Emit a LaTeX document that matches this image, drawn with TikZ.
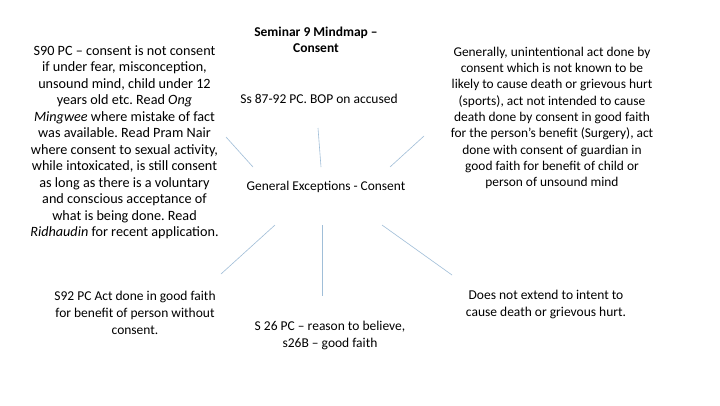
\documentclass[tikz,border=0pt]{standalone}
\usepackage{fontspec}
\setmainfont{Carlito}
\definecolor{linkc}{RGB}{160,190,216}
\begin{document}
\frenchspacing
\begin{tikzpicture}[x=1pt,y=-1pt,
  txt/.style={align=center,inner sep=0pt,text=black},
  link/.style={draw=linkc,line width=0.6pt}]
\useasboundingbox[fill=white] (0,0) rectangle (720,405);
\node[txt,font=\fontsize{13.5}{16.5}\selectfont\bfseries] (title) at (316,40)
  {Seminar 9 Mindmap –\\Consent};
\node[txt,font=\fontsize{13.5}{16.5}\selectfont] (bop) at (319,99)
  {Ss 87-92 PC. BOP on accused};
\node[txt,font=\fontsize{13.4}{16.5}\selectfont] (centre) at (326,187)
  {General Exceptions - Consent};
\node[txt,font=\fontsize{14.2}{16.5}\selectfont] (s90) at (124.5,142.5)
  {S90 PC – consent is not consent\\
   if under fear, misconception,\\
   unsound mind, child under 12\\
   years old etc. Read \textit{Ong}\\
   \textit{Mingwee} where mistake of fact\\
   was available. Read Pram Nair\\
   where consent to sexual activity,\\
   while intoxicated, is still consent\\
   as long as there is a voluntary\\
   and conscious acceptance of\\
   what is being done. Read\\
   \textit{Ridhaudin} for recent application.};
\node[txt,font=\fontsize{13.4}{16.3}\selectfont] (gen) at (552,118)
  {Generally, unintentional act done by\\
   consent which is not known to be\\
   likely to cause death or grievous hurt\\
   (sports), act not intended to cause\\
   death done by consent in good faith\\
   for the person’s benefit (Surgery), act\\
   done with consent of guardian in\\
   good faith for benefit of child or\\
   person of unsound mind};
\node[txt,font=\fontsize{13.5}{17}\selectfont] (s92) at (135,313)
  {S92 PC Act done in good faith\\
   for benefit of person without\\
   consent.};
\node[txt,font=\fontsize{13.5}{17}\selectfont] (s26) at (330,335.5)
  {S 26 PC – reason to believe,\\
   s26B – good faith};
\node[txt,font=\fontsize{13.5}{17}\selectfont] (ext) at (546,304.5)
  {Does not extend to intent to\\
   cause death or grievous hurt.};
\coordinate (a1) at (226,137); \coordinate (a2) at (253,167);
\coordinate (b1) at (318,128); \coordinate (b2) at (321,167);
\coordinate (c1) at (424,136); \coordinate (c2) at (390,167);
\coordinate (d1) at (275,225); \coordinate (d2) at (221,274);
\coordinate (e1) at (322,225); \coordinate (e2) at (322,296);
\coordinate (f1) at (382,225); \coordinate (f2) at (452,275);
\draw[link] (a1) -- (a2);
\draw[link] (b1) -- (b2);
\draw[link] (c1) -- (c2);
\draw[link] (d1) -- (d2);
\draw[link] (e1) -- (e2);
\draw[link] (f1) -- (f2);
\end{tikzpicture}
\end{document}
